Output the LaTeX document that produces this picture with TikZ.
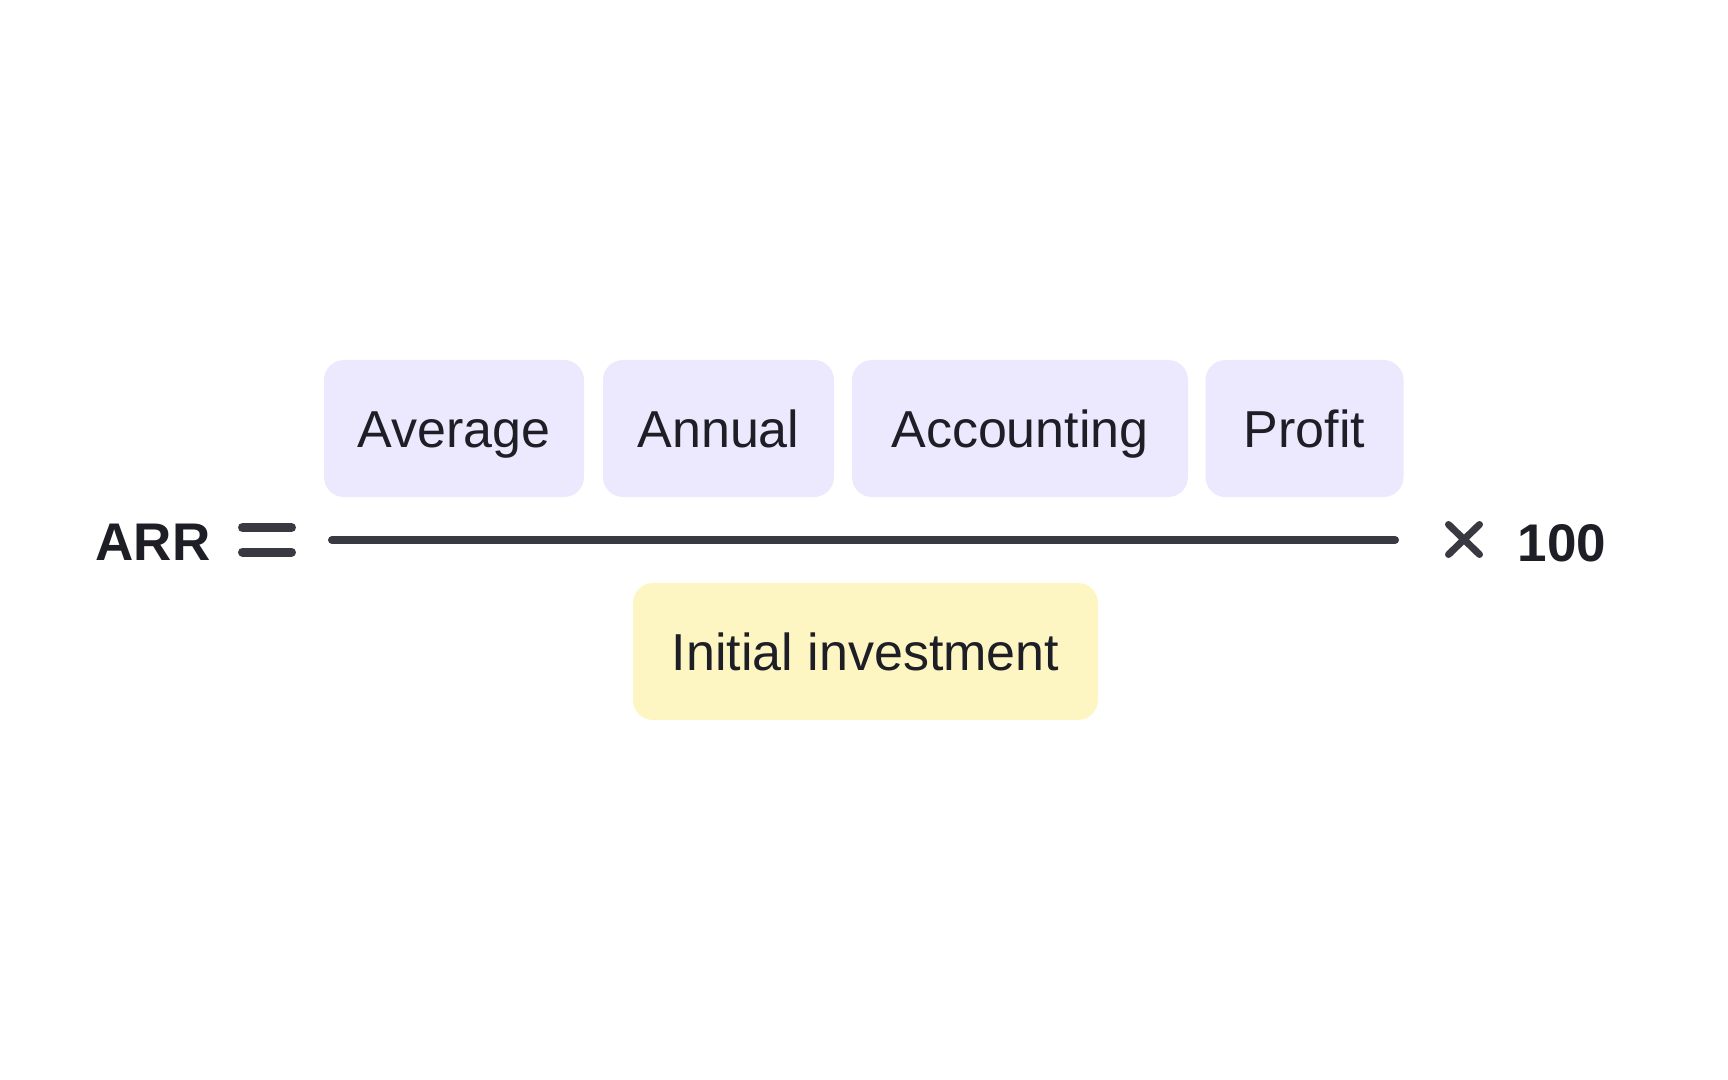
\documentclass[tikz,border=0pt]{standalone}
\usepackage{fontspec}
\setmainfont{Liberation Sans}
\usepackage{tikz}

\definecolor{ink}{HTML}{1E1E26}
\definecolor{barcol}{HTML}{393942}
\definecolor{lilac}{HTML}{ECE8FD}
\definecolor{cream}{HTML}{FDF6C2}

\tikzset{
  term/.style={fill=lilac, rounded corners=10pt, minimum height=68.5pt,
    text height=18.5pt, text depth=0pt, inner sep=0pt, text=ink,
    font=\fontsize{26}{31}\selectfont},
  denom/.style={term, fill=cream},
  big/.style={text height=19pt, text depth=0pt, inner sep=0pt, text=ink,
    font=\fontsize{26.5}{32}\selectfont\bfseries},
  sym/.style={draw=barcol, line width=4.5pt, line cap=round},
  fracline/.style={draw=barcol, line width=4pt, line cap=round}
}

\begin{document}
\begin{tikzpicture}[x=0.5pt,y=-0.5pt]
\useasboundingbox (0,0) rectangle (1728,1080);

\node (avg) [term, minimum width=130pt] at (454,428.5) {Average};
\node (ann) [term, minimum width=115.5pt] at (718.5,428.5) {Annual};
\node (acc) [term, minimum width=168pt] at (1020,428.5) {Accounting};
\node (prof) [term, minimum width=99pt] at (1304.5,428.5) {Profit};

\node (inv) [denom, minimum width=232.5pt] at (865.5,651.5) {Initial investment};

\node (arr) [big] at (153,541.5) {ARR};
\draw[sym] (242.5,527.5) -- (291.5,527.5);
\draw[sym] (242.5,552) -- (291.5,552);

\coordinate (barL) at (332,540);
\coordinate (barR) at (1395,540);
\draw[fracline] (barL) -- (barR);

\draw[sym, line width=3.5pt] (1448.5,524.5) -- (1479.5,554.5);
\draw[sym, line width=3.5pt] (1448.5,554.5) -- (1479.5,524.5);
\node (hundred) [big] at (1562,542) {100};

\end{tikzpicture}
\end{document}
